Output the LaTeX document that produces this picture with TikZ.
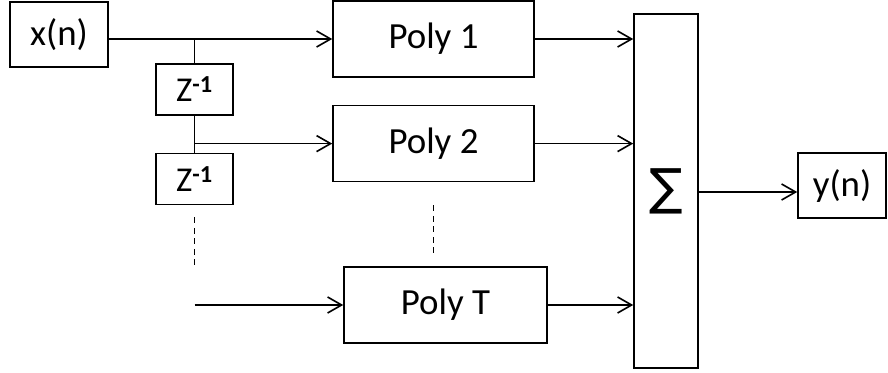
\documentclass[tikz,border=0pt]{standalone}
\usepackage{fontspec}
\setmainfont{Carlito}
\newfontfamily\symfont{DejaVu Sans}
\usetikzlibrary{arrows.meta, positioning}

\begin{document}
\begin{tikzpicture}[
  x=1bp, y=1bp,
  font=\fontsize{37}{40}\selectfont,
  blk/.style={draw, line width=1.6bp, inner sep=0pt, minimum width=201bp, minimum height=76bp},
  delay/.style={blk, minimum width=77bp, minimum height=51bp, font=\fontsize{35}{38}\selectfont},
  io/.style={blk, minimum width=98bp, minimum height=65bp},
  sig/.style={line width=1.6bp, -{Straight Barb[length=14bp, width=16bp, line width=1.6bp]}},
  dots/.style={line width=1.6bp, dash pattern=on 6bp off 4.5bp}
]
\useasboundingbox (0,0) rectangle (888,372);
% entree et retards
\node[io] (xn) at (59,337.5) {x(n)};
\node[delay] (z1) at (194.5,282.5) {Z\textsuperscript{\bfseries -1}};
\node[delay, below=37bp of z1] (z2) {Z\textsuperscript{\bfseries -1}};
% filtres polyphases
\node[blk] (p1) at (433.5,333) {Poly 1};
\node[blk, below=27bp of p1] (p2) {Poly 2};
\node[blk, minimum width=203bp] (pT) at (445.5,67) {Poly T};
% somme et sortie
\node[blk, minimum width=64bp, minimum height=354bp] (sum) at (666,181) {\symfont\fontsize{50}{54}\selectfont ∑};
\node[io, minimum width=88bp] (yn) at (842,186.5) {y(n)};
\coordinate (j1) at (z1.north |- p1.west);
\coordinate (j2) at (z1.south |- p2.west);
\coordinate (jT) at (z2.south |- pT.west);
% liaisons
\draw[sig] (xn.east |- p1.west) -- (p1.west);
\draw[line width=1.6bp] (j1) -- (z1.north);
\draw[line width=1.6bp] (z1.south) -- (z2.north);
\draw[sig] (j2) -- (p2.west);
\draw[dots, shorten <=12bp, shorten >=37bp] (z2.south) -- (jT);
\draw[sig] (jT) -- (pT.west);
\draw[dots, shorten <=23bp, shorten >=13bp] (p2.south) -- (p2.south |- pT.north);
\draw[sig] (p1.east) -- (p1.east -| sum.west);
\draw[sig] (p2.east) -- (p2.east -| sum.west);
\draw[sig] (pT.east) -- (pT.east -| sum.west);
\draw[sig] (sum.east |- 0,180) -- (yn.west |- 0,180);
\end{tikzpicture}
\end{document}
